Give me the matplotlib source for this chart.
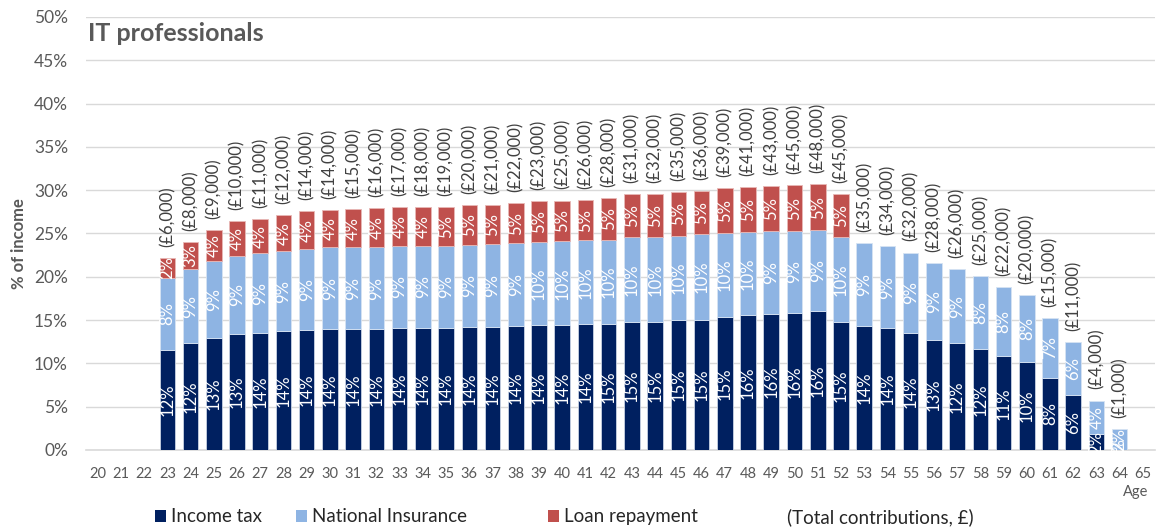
import numpy as np
import matplotlib
matplotlib.use("Agg")
import matplotlib.pyplot as plt
from matplotlib.patches import Rectangle

plt.rcParams['font.family'] = ['Lato', 'DejaVu Sans']

ages = list(range(20, 66))

# % of income (ages 20..65)
income_tax = [0, 0, 0,
              11.55, 12.3, 12.9, 13.4, 13.5, 13.7, 13.9, 14.0, 14.0, 14.0,
              14.1, 14.1, 14.1, 14.2, 14.2, 14.35, 14.4, 14.4, 14.5, 14.6,
              14.8, 14.8, 15.0, 15.05, 15.4, 15.6, 15.7, 15.85, 16.0, 14.8,
              14.35, 14.1, 13.55, 12.7, 12.3, 11.7, 10.8, 10.2, 8.35, 6.4,
              1.8, 0.05, 0]
national_ins = [0, 0, 0,
                8.35, 8.6, 8.9, 9.0, 9.2, 9.3, 9.3, 9.4, 9.4, 9.4,
                9.5, 9.5, 9.5, 9.5, 9.55, 9.55, 9.6, 9.7, 9.7, 9.65,
                9.8, 9.8, 9.7, 9.85, 9.7, 9.6, 9.6, 9.45, 9.4, 9.75,
                9.5, 9.4, 9.25, 8.9, 8.6, 8.35, 8.0, 7.7, 6.85, 6.1,
                3.9, 2.35, 0]
loan_repay = [0, 0, 0,
              2.3, 3.1, 3.6, 4.0, 4.0, 4.1, 4.4, 4.3, 4.4, 4.5,
              4.4, 4.4, 4.5, 4.6, 4.55, 4.6, 4.7, 4.7, 4.7, 4.85,
              5.0, 5.0, 5.1, 5.0, 5.15, 5.2, 5.2, 5.25, 5.3, 4.95,
              0, 0, 0, 0, 0, 0, 0, 0, 0, 0,
              0, 0, 0]

# labels shown in the bars (rounded %), None = no label
it_labels = [None, None, None,
             12, 12, 13, 13, 14, 14, 14, 14, 14, 14, 14, 14, 14, 14, 14, 14,
             14, 14, 14, 15, 15, 15, 15, 15, 15, 16, 16, 16, 16, 15,
             14, 14, 14, 13, 12, 12, 11, 10, 8, 6, 2, 0, None]
ni_labels = [None, None, None,
             8, 9, 9, 9, 9, 9, 9, 9, 9, 9, 9, 9, 9, 9, 9, 9,
             10, 10, 10, 10, 10, 10, 10, 10, 10, 10, 9, 9, 9, 10,
             9, 9, 9, 9, 9, 8, 8, 8, 7, 6, 4, 2, None]
loan_labels = [None, None, None,
               2, 3, 4, 4, 4, 4, 4, 4, 4, 4, 4, 4, 5, 5, 5, 5,
               5, 5, 5, 5, 5, 5, 5, 5, 5, 5, 5, 5, 5, 5] + [None] * 13
totals = [None, None, None,
          6, 8, 9, 10, 11, 12, 14, 14, 15, 16, 17, 18, 19, 20, 21, 22,
          23, 25, 26, 28, 31, 32, 35, 36, 39, 41, 43, 45, 48, 45,
          35, 34, 32, 28, 26, 25, 22, 20, 15, 11, 4, 1, None]

c_it = '#002060'
c_ni = '#8EB4E3'
c_loan = '#C0504D'
grey = '#595959'

fig = plt.figure(figsize=(11.58, 5.30), dpi=100)
ax = fig.add_axes([0.0743, 0.151, 0.9227, 0.817])

x = np.arange(len(ages))
it = np.array(income_tax)
ni = np.array(national_ins)
lo = np.array(loan_repay)
w = 0.67

def stack(vals, base, col, edge):
    m = vals > 0
    ax.bar(x[m], vals[m], w, bottom=base[m], color=col, edgecolor=edge,
           linewidth=0.6, zorder=3)

stack(it, np.zeros_like(it), c_it, '#C9D3E3')
stack(ni, it, c_ni, '#D6E3F3')
stack(lo, it + ni, c_loan, '#E8B8B6')

fs = 12
for i in range(len(ages)):
    if it_labels[i] is not None:
        ax.text(x[i], it[i] / 2, f'{it_labels[i]}%', rotation=90, ha='center',
                va='center', color='white', fontsize=fs, zorder=4)
    if ni_labels[i] is not None:
        ax.text(x[i], it[i] + ni[i] / 2, f'{ni_labels[i]}%', rotation=90,
                ha='center', va='center', color='white', fontsize=fs, zorder=4)
    if loan_labels[i] is not None:
        ax.text(x[i], it[i] + ni[i] + lo[i] / 2, f'{loan_labels[i]}%',
                rotation=90, ha='center', va='center', color='white',
                fontsize=fs, zorder=4)
    if totals[i] is not None:
        ax.annotate(f'(£{totals[i]},000)', (x[i], it[i] + ni[i] + lo[i]),
                    xytext=(0, 8), textcoords='offset points', rotation=90,
                    ha='center', va='bottom', color='#404040', fontsize=fs)

ax.set_xlim(-0.5, len(ages) - 0.5)
ax.set_ylim(0, 50)
ax.set_yticks(np.arange(0, 51, 5))
ax.set_yticklabels([f'{v}%' for v in range(0, 51, 5)])
ax.set_xticks(x)
ax.set_xticklabels([str(a) for a in ages])
ax.tick_params(axis='y', length=0, labelsize=12.5, labelcolor=grey, pad=13)
ax.tick_params(axis='x', length=0, labelsize=10.5, labelcolor=grey, pad=12)
ax.grid(axis='y', color='#D9D9D9', linewidth=1, zorder=0)
for s in ['top', 'right', 'left']:
    ax.spines[s].set_visible(False)
ax.spines['bottom'].set_color('#D9D9D9')
ax.spines['bottom'].set_linewidth(1.2)

ax.text(0.002, 0.988, 'IT professionals', transform=ax.transAxes, fontsize=18,
        fontweight='bold', color=grey, va='top', ha='left')
fig.text(0.016, 0.54, '% of income', rotation=90, fontsize=12,
         fontweight='bold', color=grey, ha='center', va='center')
fig.text(0.992, 0.072, 'Age', fontsize=10.5, color=grey, ha='right', va='center')

# legend row
leg_y = 0.025
items = [(c_it, 'Income tax', 0.1338), (c_ni, 'National Insurance', 0.2556),
         (c_loan, 'Loan repayment', 0.4732)]
for col, lab, lx in items:
    fig.patches.append(Rectangle((lx, leg_y - 0.009), 0.0095, 0.0208,
                                 transform=fig.transFigure, facecolor=col,
                                 edgecolor='none'))
    fig.text(lx + 0.0135, leg_y, lab, fontsize=13.5, color='#262626',
             va='center', ha='left')
fig.text(0.680, leg_y, '(Total contributions, £)', fontsize=13.5,
         color='#262626', va='center', ha='left')

fig.savefig('out.png', dpi=100)
